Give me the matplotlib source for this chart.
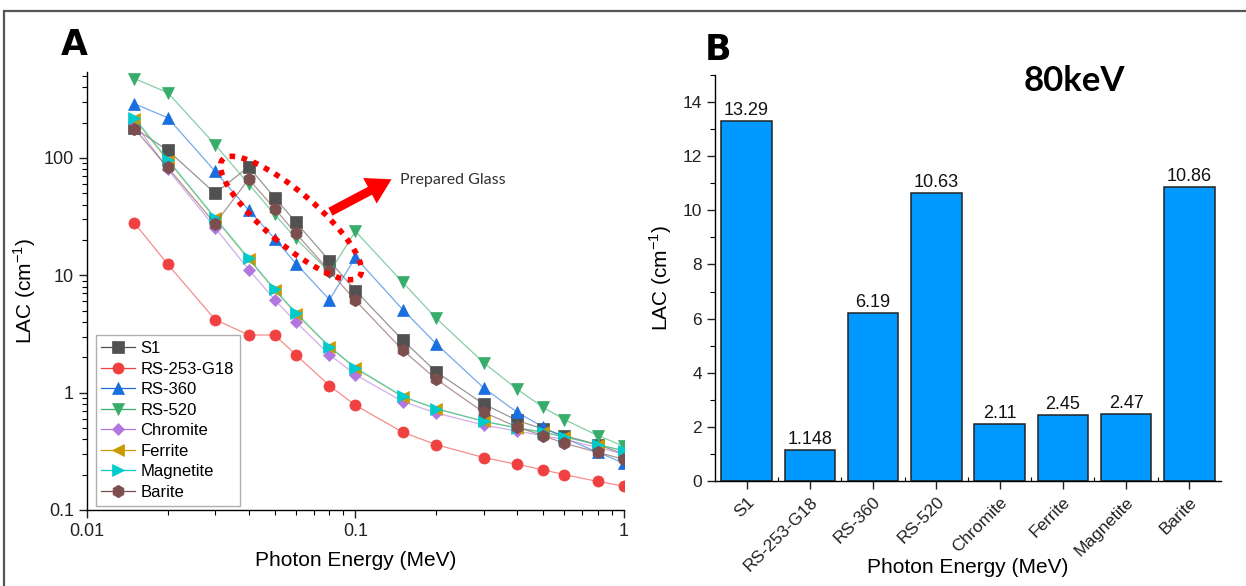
import matplotlib
matplotlib.use("Agg")
import matplotlib.pyplot as plt
from matplotlib.patches import Ellipse, Rectangle, FancyArrowPatch
from matplotlib.ticker import LogLocator, NullFormatter, FixedLocator, MultipleLocator
import numpy as np

plt.rcParams["font.family"] = ["Liberation Sans", "DejaVu Sans"]
plt.rcParams["mathtext.fontset"] = "custom"
plt.rcParams["mathtext.rm"] = "Liberation Sans"
plt.rcParams["axes.linewidth"] = 1.0

# ─── Data ────────────────────────────────────────────────────────────────

energy = [0.015, 0.02, 0.03, 0.04, 0.05, 0.06, 0.08, 0.1,
          0.15, 0.2, 0.3, 0.4, 0.5, 0.6, 0.8, 1.0]

s1 = [180, 116, 50, 84, 46, 28.3, 13.29, 7.4, 2.8, 1.5, 0.8, 0.58, 0.49, 0.43, 0.36, 0.30]
rs253 = [28, 12.4, 4.2, 3.1, 3.1, 2.1, 1.148, 0.78, 0.46, 0.36, 0.28, 0.245, 0.22, 0.20, 0.175, 0.16]
rs360 = [290, 220, 77, 36, 20.5, 12.6, 6.19, 14.2, 5.1, 2.6, 1.1, 0.68, 0.51, 0.41, 0.31, 0.25]
rs520 = [475, 360, 130, 60, 33, 20.6, 10.63, 23.7, 8.7, 4.3, 1.8, 1.07, 0.75, 0.59, 0.43, 0.35]
chromite = [200, 80, 25.5, 11.2, 6.2, 4.0, 2.11, 1.42, 0.84, 0.67, 0.53, 0.47, 0.43, 0.40, 0.34, 0.30]
ferrite = [215, 95, 30.5, 13.7, 7.5, 4.7, 2.45, 1.61, 0.92, 0.73, 0.57, 0.50, 0.46, 0.42, 0.36, 0.32]
magnetite = [220, 97, 31, 14, 7.6, 4.8, 2.47, 1.63, 0.93, 0.73, 0.57, 0.50, 0.46, 0.42, 0.36, 0.32]
barite = [178, 83, 27.5, 66, 37, 22.8, 10.86, 6.1, 2.3, 1.3, 0.68, 0.51, 0.43, 0.37, 0.31, 0.27]

names = ["S1", "RS-253-G18", "RS-360", "RS-520", "Chromite", "Ferrite", "Magnetite", "Barite"]
series = [s1, rs253, rs360, rs520, chromite, ferrite, magnetite, barite]
colors = ["#515151", "#F14040", "#1A6FDF", "#37AD6B", "#B177DE", "#CC9900", "#00CBCC", "#7D4E4E"]
markers = ["s", "o", "^", "v", "D", "<", ">", "h"]

# LAC at 80 keV
lac_80kev = [13.29, 1.148, 6.19, 10.63, 2.11, 2.45, 2.47, 10.86]
lac_80kev_labels = ["13.29", "1.148", "6.19", "10.63", "2.11", "2.45", "2.47", "10.86"]

# ─── Figure ──────────────────────────────────────────────────────────────

fig = plt.figure(figsize=(12.46, 5.86), dpi=100)
ax1 = fig.add_axes([0.0698, 0.1297, 0.431, 0.7474])
ax2 = fig.add_axes([0.5738, 0.1792, 0.4061, 0.6928])

# outer frame
fig.patches.append(Rectangle((4 / 1246, -0.05), 1.1, (586 - 11) / 586 + 0.05,
                             transform=fig.transFigure, fill=False,
                             edgecolor="#555555", linewidth=1.6, clip_on=False))

# ── Panel A ──
for name, vals, c, m in zip(names, series, colors, markers):
    ms = 8
    if m == "h":
        ms = 9
    elif m == "D":
        ms = 6.5
    ax1.plot(energy, vals, color=c, alpha=0.6, linewidth=0.9)
    ax1.plot(energy, vals, linestyle="none", marker=m, markersize=ms,
             color=c, markeredgecolor=c, markeredgewidth=0.5)
    ax1.plot([], [], color=c, linewidth=0.9, marker=m, markersize=ms,
             markeredgewidth=0.5, label=name)

ax1.set_xscale("log")
ax1.set_yscale("log")
ax1.set_xlim(0.01, 1)
ax1.set_ylim(0.1, 540)
ax1.spines["top"].set_visible(False)
ax1.spines["right"].set_visible(False)
ax1.xaxis.set_major_locator(FixedLocator([0.01, 0.1, 1]))
ax1.set_xticklabels(["0.01", "0.1", "1"])
ax1.xaxis.set_minor_locator(LogLocator(base=10, subs=np.arange(2, 10)))
ax1.xaxis.set_minor_formatter(NullFormatter())
ax1.yaxis.set_major_locator(FixedLocator([0.1, 1, 10, 100]))
ax1.set_yticklabels(["0.1", "1", "10", "100"])
ax1.yaxis.set_minor_locator(LogLocator(base=10, subs=np.arange(2, 10)))
ax1.yaxis.set_minor_formatter(NullFormatter())
ax1.tick_params(which="major", direction="out", length=6, width=1,
                labelsize=13, colors="#222222")
ax1.tick_params(which="minor", direction="out", length=3.5, width=0.8)
ax1.set_xlabel("Photon Energy (MeV)", fontsize=15, labelpad=8)
ax1.set_ylabel(r"LAC (cm$^{\mathregular{-1}}$)", fontsize=15, labelpad=4)

leg = ax1.legend(loc="lower left", bbox_to_anchor=(0.016, 0.01), borderaxespad=0,
                 fontsize=12, frameon=True, fancybox=False, edgecolor="#9a9a9a",
                 handlelength=2.0, handletextpad=0.35, labelspacing=0.33,
                 borderpad=0.35)
leg.get_frame().set_linewidth(1.0)

# dotted ellipse + arrow (figure inches, dpi=100)
ell = Ellipse((2.91, 5.86 - 2.18), 1.80, 0.52, angle=-40.5,
              transform=fig.dpi_scale_trans, fill=False, edgecolor="#FF0000",
              linewidth=4.0, linestyle=(0, (1.0, 1.2)), clip_on=False)
fig.patches.append(ell)
fig.add_artist(FancyArrowPatch(
    (3.28, 5.86 - 2.13), (3.94, 5.86 - 1.78), transform=fig.dpi_scale_trans,
    arrowstyle="simple,head_length=1.1,head_width=1.3,tail_width=0.4",
    mutation_scale=16, color="#FF0000", linewidth=0))
fig.text(4.00 / 12.46, (5.86 - 1.80) / 5.86, "Prepared Glass", fontsize=11.5,
         family="Lato", color="#333333", va="center", ha="left")

# ── Panel B ──
x = np.arange(len(names))
ax2.bar(x, lac_80kev, width=0.8, color="#0099FF", edgecolor="#222222", linewidth=1.1)
for xi, v, lab in zip(x, lac_80kev, lac_80kev_labels):
    ax2.text(xi, v + 0.08, lab, ha="center", va="bottom", fontsize=13, color="#111111")

ax2.set_xlim(-0.5, 7.5)
ax2.set_ylim(0, 15)
ax2.spines["top"].set_visible(False)
ax2.spines["right"].set_visible(False)
ax2.set_xticks(x)
ax2.set_xticklabels(names, rotation=45, ha="right", rotation_mode="anchor")
ax2.xaxis.set_minor_locator(FixedLocator(x[:-1] + 0.5))
ax2.yaxis.set_major_locator(MultipleLocator(2))
ax2.yaxis.set_minor_locator(MultipleLocator(1))
ax2.tick_params(which="major", direction="out", length=6, width=1,
                labelsize=12.5, colors="#222222")
ax2.tick_params(axis="x", which="minor", direction="in", length=3, width=0.8)
ax2.tick_params(axis="y", which="minor", direction="out", length=3.5, width=0.8)
ax2.set_xlabel("Photon Energy (MeV)", fontsize=15, labelpad=-11)
ax2.set_ylabel(r"LAC (cm$^{\mathregular{-1}}$)", fontsize=15, labelpad=6)

fig.text(1074 / 1246, 1 - 81 / 586, "80keV", fontsize=25, fontweight="bold",
         family="Lato", ha="center", va="center")

# panel letters
fig.text(74 / 1246, 1 - 45 / 586, "A", fontsize=25, fontweight="bold",
         family="Liberation Sans Narrow", ha="center", va="center")
fig.text(718 / 1246, 1 - 50 / 586, "B", fontsize=25, fontweight="bold",
         family="Liberation Sans Narrow", ha="center", va="center")

fig.savefig("out.png", dpi=100)
plt.close(fig)
